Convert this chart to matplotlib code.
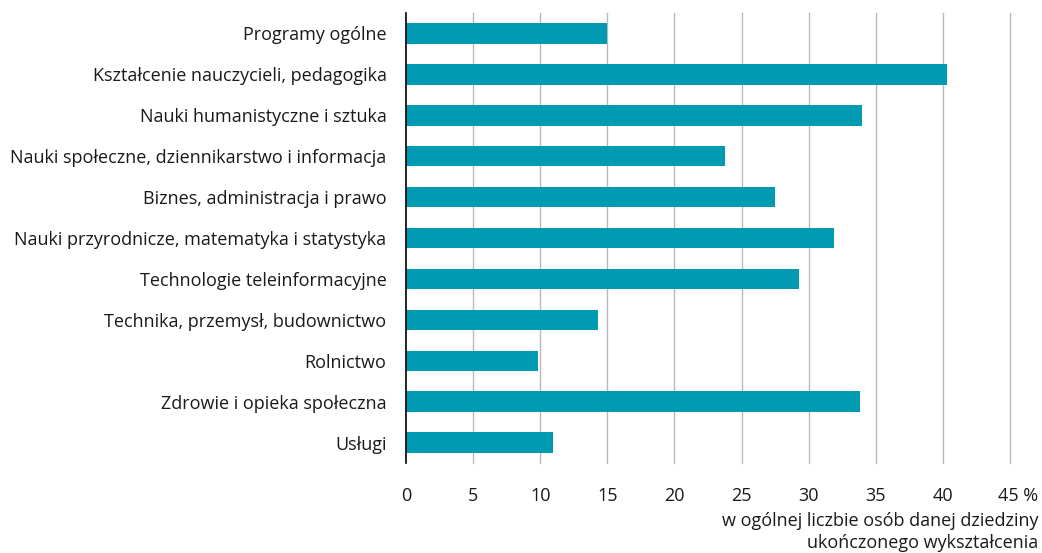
import matplotlib
matplotlib.use("Agg")
import matplotlib.pyplot as plt
from matplotlib.transforms import ScaledTranslation

categories = [
    "Programy ogólne",
    "Kształcenie nauczycieli, pedagogika",
    "Nauki humanistyczne i sztuka",
    "Nauki społeczne, dziennikarstwo i informacja",
    "Biznes, administracja i prawo",
    "Nauki przyrodnicze, matematyka i statystyka",
    "Technologie teleinformacyjne",
    "Technika, przemysł, budownictwo",
    "Rolnictwo",
    "Zdrowie i opieka społeczna",
    "Usługi",
]
values = [15.0, 40.3, 34.0, 23.8, 27.5, 31.9, 29.3, 14.3, 9.8, 33.8, 10.95]
xticks = [0, 5, 10, 15, 20, 25, 30, 35, 40, 45]
xticklabels = ["0", "5", "10", "15", "20", "25", "30", "35", "40", "45 %"]
xlabel = "w ogólnej liczbie osób danej dziedziny\nukończonego wykształcenia"

plt.rcParams['font.family'] = ['Open Sans', 'DejaVu Sans']

fig = plt.figure(figsize=(10.42, 5.53), dpi=100)
ax = fig.add_axes([406/1042, 1-463/553, (1010-406)/1042, (463-13)/553])

ypos = list(range(len(categories)))
ax.barh(ypos, values, height=0.5, color="#009bb2", zorder=3)
ax.set_ylim(len(categories) - 0.5, -0.5)
ax.set_xlim(0, 45)
ax.set_yticks(ypos)
ax.set_yticklabels(categories, fontsize=13, color="#1a1a1a")
ax.set_xticks(xticks)
ax.set_xticklabels(xticklabels, fontsize=13, color="#1a1a1a")
ax.tick_params(axis='both', length=0)
ax.tick_params(axis='y', pad=14)
ax.tick_params(axis='x', pad=17)
last = ax.get_xticklabels()[-1]
last.set_transform(last.get_transform() + ScaledTranslation(8/100, 0, fig.dpi_scale_trans))
for t in xticks[1:]:
    ax.axvline(t, color="#b8b8b8", lw=1, zorder=1, clip_on=False)
for s in ["top", "right", "bottom"]:
    ax.spines[s].set_visible(False)
ax.spines["left"].set_color("#000000")
ax.spines["left"].set_linewidth(1.2)
ax.spines["left"].set_zorder(4)

fig.text(1038/1042, 1-532/553, xlabel, ha="right", va="center", fontsize=13,
         color="#1a1a1a", linespacing=1.35)

fig.savefig("out.png", dpi=100)
